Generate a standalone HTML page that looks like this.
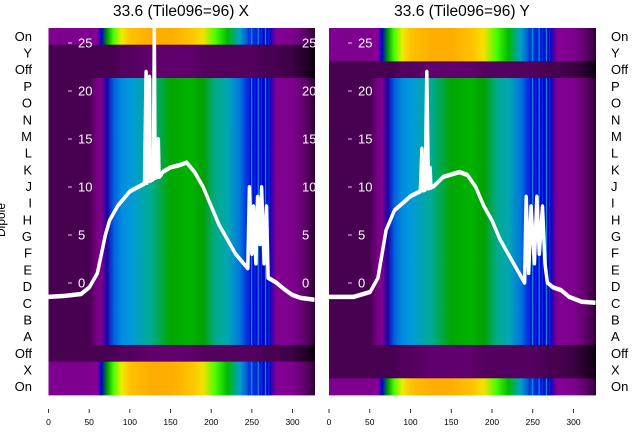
<!DOCTYPE html>
<html><head><meta charset="utf-8">
<style>
html,body{margin:0;padding:0;background:#fff;width:640px;height:440px;overflow:hidden}
svg{display:block;font-family:"Liberation Sans","DejaVu Sans",sans-serif}
</style></head>
<body>
<svg id="chart" width="640" height="440" viewBox="0 0 640 440" xmlns="http://www.w3.org/2000/svg">
<defs id="defs"></defs>
<text x="181" y="16" font-size="15.5" text-anchor="middle" fill="#000">33.6 (Tile096=96) X</text>
<text x="462" y="16" font-size="15.5" text-anchor="middle" fill="#000">33.6 (Tile096=96) Y</text>
<g id="panels"></g>
<text transform="translate(5,220) rotate(-90)" font-size="12" text-anchor="middle" fill="#000">Dipole</text>
</svg>
<script>
// ---- data ----
const rowLabels = ["On","Y","Off","P","O","N","M","L","K","J","I","H","G","F","E","D","C","B","A","Off","X","On"];
const rowKindsX = ["on","off","off","dip","dip","dip","dip","dip","dip","dip","dip","dip","dip","dip","dip","dip","dip","dip","dip","off","on","on"];
const rowKindsY = ["on","on","off","dip","dip","dip","dip","dip","dip","dip","dip","dip","dip","dip","dip","dip","dip","dip","dip","off","off","on"];
const profileX    = [0,   50,  60,  65,  72,  80,  90,  100, 125, 150, 175, 190, 205, 220, 235, 250, 270, 280, 300, 315, 327];
const onProfile   = [0.07,0.07,0.10,0.18,0.45,0.62,0.70,0.76,0.78,0.78,0.76,0.72,0.62,0.50,0.32,0.22,0.18,0.09,0.07,0.04,0.02];
const dipProfile  = [0.03,0.03,0.05,0.07,0.14,0.24,0.28,0.30,0.38,0.47,0.49,0.46,0.40,0.34,0.25,0.20,0.18,0.08,0.07,0.04,0.02];
const offProfile  = [0.03,0.03,0.03,0.03,0.03,0.03,0.035,0.035,0.04,0.04,0.04,0.035,0.035,0.035,0.035,0.035,0.03,0.03,0.025,0.015,0.005];
const stripeX = [245,249,253,257,261,266,270];
const xTicks = [0,50,100,150,200,250,300];
const yTicks = [0,5,10,15,20,25];
const lineXX = [0,20,40,50,60,65,70,75,85,100,118,120,121,124,125,127,129,130,131,133,135,136,138,140,150,160,170,180,190,200,210,220,230,240,245,247,250,252,255,257,260,262,265,268,270,280,290,300,310,327];
const lineXY = [-1.5,-1.4,-1.2,-0.5,1,3,5,6.5,8,9.5,10.3,22,10.4,21.5,10.6,10.7,10.8,30,10.9,11,15,11,11.2,11.5,12,12.2,12.5,11.5,10,8,6,4.5,3,2,1.5,10,3,8,2,9,4,10,2,8,0.5,0,-0.7,-1.3,-1.6,-1.8];
const lineYX = [0,30,50,60,65,70,80,100,112,114,116,118,120,122,124,125,126,128,140,160,170,180,190,200,210,220,230,240,242,245,248,252,255,258,262,265,268,275,285,295,310,327];
const lineYY = [-1.5,-1.5,-1,0.5,3,5.5,7.5,9,9.5,14,9.6,9.7,22,9.8,12,9.9,10,10,11,11.5,11.2,10,8,6.5,4.5,3,1.5,0,9,1,8,2,9,3,8,2,0,-0.5,-0.8,-1.5,-2,-2.1];

// ---- colormap (nipy_spectral) ----
const cmStops=[[0,0,0,0],[0.05,.47,0,.53],[0.10,.53,0,.6],[0.15,0,0,.67],[0.20,0,0,.87],[0.25,0,.47,.87],[0.30,0,.6,.87],[0.35,0,.67,.67],[0.40,0,.67,.53],[0.45,0,.6,0],[0.50,0,.73,0],[0.55,0,.87,0],[0.60,0,1,0],[0.65,.73,1,0],[0.70,.93,.93,0],[0.75,1,.8,0],[0.80,1,.6,0],[0.85,1,0,0],[0.90,.87,0,0],[0.95,.8,.8,.8],[1,.8,.8,.8]];
function cmap(v){v=Math.max(0,Math.min(1,v));for(let i=1;i<cmStops.length;i++){const a=cmStops[i-1],b=cmStops[i];if(v<=b[0]){const t=(v-a[0])/(b[0]-a[0]);const c=[1,2,3].map(k=>Math.round(255*(a[k]+t*(b[k]-a[k]))));return `rgb(${c[0]},${c[1]},${c[2]})`;}}return "rgb(204,204,204)";}

const NS="http://www.w3.org/2000/svg";
const defs=document.getElementById('defs');
const root=document.getElementById('panels');
function el(tag,attrs,parent){const e=document.createElementNS(NS,tag);for(const k in attrs)e.setAttribute(k,attrs[k]);(parent||root).appendChild(e);return e;}

const top0=28, bottom0=395, xMax=327.6;
const rowH=(bottom0-top0)/rowLabels.length;
function makeGrad(id,prof){const g=el('linearGradient',{id:id,x1:0,y1:0,x2:1,y2:0},defs);
  profileX.forEach((px,i)=>{el('stop',{offset:(px/xMax).toFixed(4),'stop-color':cmap(prof[i])},g);});}
makeGrad('g-on',onProfile);makeGrad('g-dip',dipProfile);makeGrad('g-off',offProfile);

function drawPanel(key,left,right,kinds,lx,ly,labelSide,tickLabelX){
  const sx=v=>left+(v/xMax)*(right-left);
  const sy=v=>283-v*9.6;
  const g=el('g',{});
  
  
  kinds.forEach((k,i)=>{
    const r=el('rect',{x:left,y:top0+i*rowH,width:right-left,height:rowH+0.4,fill:'url(#g-'+k+')'},g);
    
    
    if(k!=='off'){
      stripeX.forEach((s,j)=>{
        const st=el('rect',{x:sx(s),y:top0+i*rowH,width:1.3,height:rowH+0.4,fill:j%2?'#0090d8':'#0030e0'},g);
        
        
      });
    }
  });
  rowLabels.forEach((lab,i)=>{
    const t=el('text',{x:labelSide==='left'?32:611,y:top0+(i+0.5)*rowH+4.5,'font-size':13,'text-anchor':labelSide==='left'?'end':'start',fill:'#000'},root);
    t.textContent=lab;
    
    
  });
  xTicks.forEach(v=>{
    el('line',{x1:sx(v),x2:sx(v),y1:409,y2:413,stroke:'#000','stroke-width':0.8},root);
    const t=el('text',{x:sx(v),y:425,'font-size':8.5,'text-anchor':'middle',fill:'#000'},root);
    t.textContent=v;
    
    
  });
  yTicks.forEach(v=>{
    el('line',{x1:tickLabelX-10,x2:tickLabelX-6,y1:sy(v),y2:sy(v),stroke:'#fff','stroke-width':0.8},g);
    const t=el('text',{x:tickLabelX,y:sy(v)+4.5,'font-size':13,fill:'#fff'},g);
    t.textContent=v;
    
    
  });
  const d=lx.map((x,i)=>(i?'L':'M')+sx(x).toFixed(1)+','+Math.max(top0,sy(ly[i])).toFixed(1)).join('');
  const p=el('path',{d:d,fill:'none',stroke:'#fff','stroke-width':3.5,'stroke-linejoin':'round'},g);
  
  
  const p2=el('path',{d:d,fill:'none',stroke:'#fff','stroke-width':1.5,transform:'translate(0,-2)'},g);
  
  
}
drawPanel('x',48.5,315,rowKindsX,lineXX,lineXY,'left',78);
drawPanel('y',329,596,rowKindsY,lineYX,lineYY,'right',358);
yTicks.forEach(v=>{
  const t=el('text',{x:302,y:283-v*9.6+4.5,'font-size':13,fill:'#fff'},root);
  t.textContent=v;
  
  
});
el('rect',{x:315,y:28,width:14,height:367,fill:'#fff'},root);
</script>
</body></html>
